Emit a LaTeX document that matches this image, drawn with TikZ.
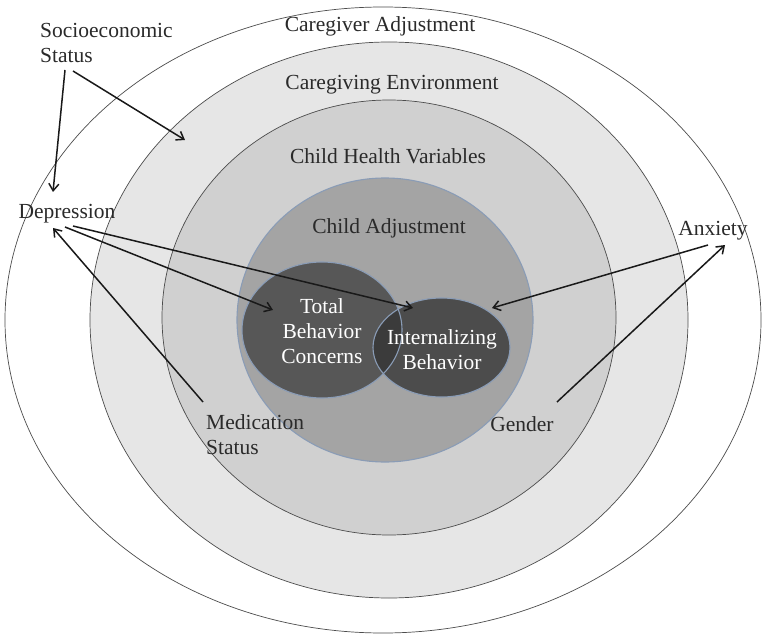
\documentclass[tikz,border=0pt]{standalone}
\usepackage{fontspec}
\setmainfont{Liberation Serif}
\usetikzlibrary{arrows.meta}
\definecolor{ringA}{HTML}{E6E6E6}
\definecolor{ringB}{HTML}{D0D0D0}
\definecolor{adjfill}{HTML}{A4A4A4}
\definecolor{tbcfill}{HTML}{575757}
\definecolor{ibfill}{HTML}{4C4C4C}
\definecolor{overlapfill}{HTML}{3B3B3B}
\definecolor{blueedge}{HTML}{8A9CB6}
\definecolor{labeltext}{HTML}{2A2A2A}
\begin{document}
\begin{tikzpicture}[x=1pt,y=-1pt,
  ring/.style={draw=black!70,line width=0.7pt},
  softedge/.style={draw=blueedge,line width=1.1pt},
  lbl/.style={font=\fontsize{21.5}{25}\selectfont,text=labeltext,inner sep=0pt},
  inlbl/.style={lbl,text=white,align=center},
  arr/.style={-{Straight Barb[length=7pt,width=10pt]},line width=1.5pt,draw=black!90},
]
\useasboundingbox (0,0) rectangle (765,636);
\fill[white] (0,0) rectangle (765,636);

% nested layers of the model
\draw[ring,fill=white] (383,320) ellipse [x radius=378,y radius=313];
\draw[ring,fill=ringA] (389,320) ellipse [x radius=299,y radius=278];
\draw[ring,fill=ringB] (389,317.5) ellipse [x radius=227,y radius=217.5];
\draw[softedge,fill=adjfill] (385,320) ellipse [x radius=148,y radius=142];

% the two overlapping outcome ellipses
\fill[tbcfill] (322,330) ellipse [x radius=80,y radius=68];
\fill[ibfill] (441.5,347.5) ellipse [x radius=68.5,y radius=49.5];
\begin{scope}
  \clip (322,330) ellipse [x radius=80,y radius=68];
  \fill[overlapfill] (441.5,347.5) ellipse [x radius=68.5,y radius=49.5];
\end{scope}
\draw[softedge] (322,330) ellipse [x radius=80,y radius=68];
\draw[softedge] (441.5,347.5) ellipse [x radius=68.5,y radius=49.5];

% layer titles
\node[lbl] (cgadj) at (380,26) {Caregiver Adjustment};
\node[lbl] (cgenv) at (392,85) {Caregiving Environment};
\node[lbl] (chv) at (388,156) {Child Health Variables};
\node[lbl] (cadj) at (389,228) {Child Adjustment};
\node[inlbl] (tbc) at (322,331) {Total\\Behavior\\Concerns};
\node[inlbl] (ib) at (442,350) {Internalizing\\Behavior};

% predictors
\node[lbl,align=left,anchor=west] (ses) at (40,43) {Socioeconomic\\Status};
\node[lbl] (dep) at (67,214) {Depression};
\node[lbl,align=left,anchor=west] (med) at (206,435) {Medication\\Status};
\node[lbl] (gen) at (522,424) {Gender};
\node[lbl] (anx) at (713,231) {Anxiety};

% arrow end points
\coordinate (sesL) at (65,70);
\coordinate (sesR) at (73,71);
\coordinate (depTop) at (53,192);
\coordinate (envPt) at (185,140);
\coordinate (depR1) at (65,227);
\coordinate (depR2) at (73,226);
\coordinate (depLow) at (53,228);
\coordinate (tbcIn) at (273,310);
\coordinate (ibIn) at (413,308);
\coordinate (ibRight) at (492,308);
\coordinate (medTop) at (203,402);
\coordinate (anxL) at (708,245);
\coordinate (anxLow) at (725,245);
\coordinate (genTop) at (557,402);

\draw[arr] (sesL) -- (depTop);
\draw[arr] (sesR) -- (envPt);
\draw[arr] (depR1) -- (tbcIn);
\draw[arr] (depR2) -- (ibIn);
\draw[arr] (medTop) -- (depLow);
\draw[arr] (anxL) -- (ibRight);
\draw[arr] (genTop) -- (anxLow);
\end{tikzpicture}
\end{document}
